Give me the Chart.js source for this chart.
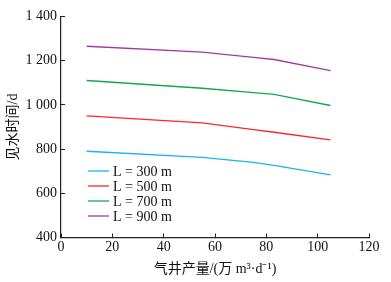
<!DOCTYPE html>
<html>
<head>
<meta charset="utf-8">
<script src="https://cdn.jsdelivr.net/npm/chart.js@4/dist/chart.umd.min.js"></script>
<style>
  html, body { margin: 0; padding: 0; background: #fff; }
  #wrap { width: 391px; height: 282px; }
</style>
</head>
<body>
<div id="wrap"><canvas id="myChart"></canvas></div>
<script>
// 气井产量 (万 m3/d)
const rates = [10, 55, 75, 83, 105];
// 见水时间 (d)
const l300 = [790, 762, 740, 726, 683];
const l500 = [950, 918, 888, 876, 842];
const l700 = [1110, 1075, 1055, 1047, 997];
const l900 = [1265, 1238, 1215, 1205, 1155];
const seriesNames = ['L = 300 m', 'L = 500 m', 'L = 700 m', 'L = 900 m'];
const seriesColors = ['#1ab4ee', '#ff2626', '#14a850', '#a23aa6'];
const xTicks = [0, 20, 40, 60, 80, 100, 120];
const yTicks = [400, 600, 800, 1000, 1200, 1400];

const serif = "'Liberation Serif', 'Times New Roman', serif";
const cjk = "'Liberation Serif', 'Noto Sans CJK SC', serif";

function toPoints(ys) {
  return rates.map((x, i) => ({ x: x, y: ys[i] }));
}

const data = {
  datasets: [l300, l500, l700, l900].map((ys, i) => ({
    label: seriesNames[i],
    data: toPoints(ys),
    borderColor: seriesColors[i],
    backgroundColor: seriesColors[i],
    borderWidth: 1.3,
    pointRadius: 0,
    tension: 0
  }))
};

// legend drawn inside the plot, lower left
const innerLegend = {
  id: 'innerLegend',
  afterDatasetsDraw(chart) {
    const ctx = chart.ctx;
    ctx.save();
    ctx.font = '14px ' + serif;
    ctx.textBaseline = 'middle';
    chart.data.datasets.forEach((ds, i) => {
      const y = 171 + i * 15;
      ctx.strokeStyle = ds.borderColor;
      ctx.lineWidth = 1.3;
      ctx.beginPath();
      ctx.moveTo(88, y);
      ctx.lineTo(109, y);
      ctx.stroke();
      ctx.fillStyle = '#111';
      ctx.fillText(ds.label, 113, y + 1);
    });
    ctx.restore();
  }
};

const config = {
  type: 'line',
  data: data,
  options: {
    responsive: true,
    maintainAspectRatio: false,
    animation: false,
    layout: { padding: { left: 0, right: 22, top: 11, bottom: 0 } },
    plugins: {
      legend: { display: false },
      tooltip: { enabled: false }
    },
    scales: {
      x: {
        type: 'linear',
        min: 0,
        max: 120,
        afterBuildTicks: s => { s.ticks = xTicks.map(v => ({ value: v })); },
        afterFit: s => { s.height = 44.5; },
        grid: { drawOnChartArea: false, tickLength: -4, color: '#222', lineWidth: 1 },
        border: { display: true, color: '#222', width: 1.2 },
        ticks: { color: '#111', font: { family: serif, size: 14 }, padding: 5 },
        title: {
          display: true,
          text: '气井产量/(万 m³·d⁻¹)',
          color: '#111',
          font: { family: cjk, size: 14 },
          padding: { top: 0, bottom: 4 }
        }
      },
      y: {
        min: 400,
        max: 1400,
        afterBuildTicks: s => { s.ticks = yTicks.map(v => ({ value: v })); },
        afterFit: s => { s.width = 61; },
        grid: { drawOnChartArea: false, tickLength: -4, color: '#222', lineWidth: 1 },
        border: { display: true, color: '#222', width: 1.2 },
        ticks: {
          color: '#111',
          font: { family: serif, size: 14 },
          padding: 8,
          callback: v => v >= 1000 ? Math.floor(v / 1000) + ' ' + String(v % 1000).padStart(3, '0') : String(v)
        },
        title: {
          display: true,
          text: '见水时间/d',
          color: '#111',
          font: { family: cjk, size: 14 },
          padding: { top: 5, bottom: 0 }
        }
      }
    }
  },
  plugins: [innerLegend]
};

const myChart = new Chart(document.getElementById('myChart'), config);
</script>
</body>
</html>
